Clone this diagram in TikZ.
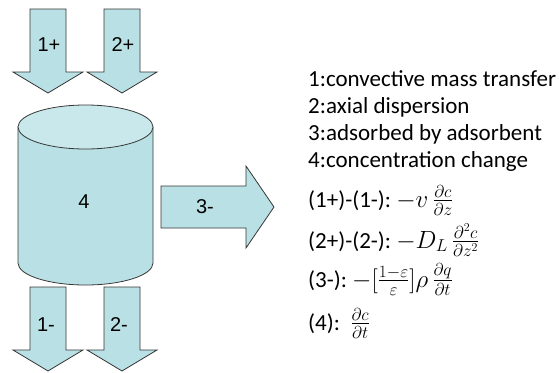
\documentclass[tikz,border=0pt]{standalone}
\usepackage{amsmath,fontspec}
\setmainfont{Carlito}
\newfontfamily\flowfont{Liberation Sans}
\definecolor{tankfill}{RGB}{185,224,228}
\definecolor{tanktop}{RGB}{201,232,235}
\definecolor{tankline}{RGB}{55,55,55}
\tikzset{flow/.style={draw=tankline,fill=tankfill,line width=0.8pt,line join=miter},
  flowlabel/.style={font=\flowfont\fontsize{20}{24}\selectfont,inner sep=0pt},
  legend/.style={font=\fontsize{23}{27}\selectfont,anchor=base west,inner sep=0pt}}
% block arrow pointing down: centre x, top y
\newcommand{\downflow}[2]{%
  \path[flow] ({#1-18},#2) -- ({#1+18},#2) -- ({#1+18},{#2-63}) -- ({#1+35},{#2-63})
    -- (#1,{#2-84}) -- ({#1-35},{#2-63}) -- ({#1-18},{#2-63}) -- cycle;}

\begin{document}
\begin{tikzpicture}[x=1pt,y=1pt]
\useasboundingbox (0,0) rectangle (559,-372);
% inflow arrows
\downflow{48}{-9}
\downflow{122}{-9}
% tank
\path[flow] (18,-127) -- (18,-263) arc[start angle=180,end angle=360,x radius=67.5,y radius=22] -- (153,-127) -- cycle;
\path[flow,fill=tanktop] (85.5,-127) ellipse[x radius=67.5,y radius=22];
% outflow arrows
\downflow{48}{-287}
\downflow{122}{-287}
% adsorption arrow
\path[flow] (161,-186) -- (246,-186) -- (246,-166) -- (274,-207) -- (246,-248) -- (246,-228) -- (161,-228) -- cycle;
\node[flowlabel] (in1) at (49,-45) {1+};
\node[flowlabel] (in2) at (123,-45) {2+};
\node[flowlabel] (tank) at (84,-202) {4};
\node[flowlabel] (ads) at (205,-207) {3-};
\node[flowlabel] (out1) at (46,-325) {1-};
\node[flowlabel] (out2) at (119,-325) {2-};
% legend
\node[legend] (conv) at (308,-86) {1:convective mass transfer};
\node[legend] (disp) at (308,-113) {2:axial dispersion};
\node[legend] (adsb) at (308,-140) {3:adsorbed by adsorbent};
\node[legend] (conc) at (308,-167) {4:concentration change};
\node[legend] (eqconv) at (308,-207) {(1+)-(1-):\ $-v\,\frac{\partial c}{\partial z}$};
\node[legend] (eqdisp) at (308,-248) {(2+)-(2-):\ $-D_L\,\frac{\partial^2 c}{\partial z^2}$};
\node[legend] (eqads) at (308,-287) {(3-):\ $-[\frac{1-\varepsilon}{\varepsilon}]\rho\,\frac{\partial q}{\partial t}$};
\node[legend] (eqconc) at (308,-330) {(4):\ \ $\frac{\partial c}{\partial t}$};
\end{tikzpicture}
\end{document}
